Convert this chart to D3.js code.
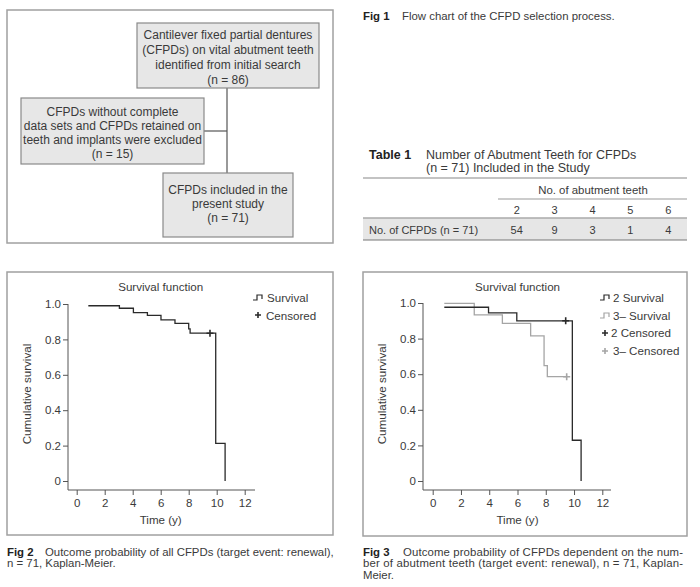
<!DOCTYPE html>
<html><head><meta charset="utf-8">
<script src="https://cdn.jsdelivr.net/npm/d3@7"></script>
<style>
body{margin:0;background:#fff}
svg{display:block}
text{font-family:"Liberation Sans",Arial,Helvetica,sans-serif;fill:#3a3a3a}
</style>
</head><body>
<svg id="c" width="700" height="587"></svg>
<script>
// ---------- DATA ----------
const flowTop = ["Cantilever fixed partial dentures","(CFPDs) on vital abutment teeth","identified from initial search","(n = 86)"];
const flowExcluded = ["CFPDs without complete","data sets and CFPDs retained on","teeth and implants were excluded","(n = 15)"];
const flowIncluded = ["CFPDs included in the","present study","(n = 71)"];

const abutmentTeeth = ["2","3","4","5","6"];
const cfpdCounts = [54, 9, 3, 1, 4];

const timeTicks = [0, 2, 4, 6, 8, 10, 12];
const survTicks = [0, 0.2, 0.4, 0.6, 0.8, 1.0];

// Fig 2: all CFPDs
const allTimes = [0.83, 3.05, 4.05, 5.05, 6.02, 7.02, 8.0, 8.1, 9.93, 10.6];
const allSurv  = [0.99, 0.976, 0.951, 0.936, 0.91, 0.89, 0.86, 0.835, 0.213, 0];
const allCensT = [9.52];
const allCensS = [0.835];

// Fig 3: 2 abutment teeth
const twoTimes = [0.82, 3.95, 5.95, 9.88, 10.5];
const twoSurv  = [0.976, 0.945, 0.9, 0.229, 0];
const twoCensT = [9.41];
const twoCensS = [0.9];
// Fig 3: 3+ abutment teeth
const threeTimes = [0.82, 2.94, 4.93, 6.93, 7.88, 8.11, 9.48];
const threeSurv  = [0.998, 0.933, 0.886, 0.815, 0.648, 0.586, 0.586];
const threeCensT = [9.48];
const threeCensS = [0.586];

// ---------- DRAW ----------
const svg = d3.select("#c");
svg.append("rect").attr("width",700).attr("height",587).attr("fill","#fff");

// ===== Fig 1 flowchart =====
const f1 = svg.append("g");
f1.append("rect").attr("x",7).attr("y",10).attr("width",326).attr("height",233)
  .attr("fill","none").attr("stroke","#a0a0a0").attr("stroke-width",1.5);
f1.append("line").attr("x1",227).attr("x2",227).attr("y1",88).attr("y2",173).attr("stroke","#555").attr("stroke-width",1.2);
f1.append("line").attr("x1",204).attr("x2",227).attr("y1",131).attr("y2",131).attr("stroke","#555").attr("stroke-width",1.2);
function flowBox(x,y,w,h,lines,cy0,dy){
  f1.append("rect").attr("x",x).attr("y",y).attr("width",w).attr("height",h)
    .attr("fill","#e7e7e7").attr("stroke","#8a8a8a").attr("stroke-width",1.2);
  f1.selectAll(null).data(lines).enter().append("text")
    .attr("x",x+w/2).attr("y",(d,i)=>cy0+i*dy+4)
    .attr("text-anchor","middle").attr("font-size",12).text(d=>d);
}
flowBox(137,23,182,65,flowTop,35,15);
flowBox(21,98,183,66,flowExcluded,112,14);
flowBox(163,173,130,64,flowIncluded,190,14);

// Fig 1 caption
const c1 = svg.append("text").attr("x",363).attr("y",20).attr("font-size",11.4);
c1.append("tspan").attr("font-weight","bold").attr("fill","#222").text("Fig 1");
c1.append("tspan").attr("x",402).text("Flow chart of the CFPD selection process.");

// ===== Table 1 =====
const t1 = svg.append("g");
const tt = t1.append("text").attr("x",369).attr("y",159).attr("font-size",12.5);
tt.append("tspan").attr("font-weight","bold").attr("fill","#222").text("Table 1");
tt.append("tspan").attr("x",426).text("Number of Abutment Teeth for CFPDs");
t1.append("text").attr("x",426).attr("y",172).attr("font-size",12.5).text("(n = 71) Included in the Study");
const colX = d3.scalePoint().domain(abutmentTeeth).range([516.7,668.3]);
t1.append("rect").attr("x",363).attr("y",218).attr("width",324).attr("height",22).attr("fill","#e6e6e6");
t1.append("line").attr("x1",363).attr("x2",687).attr("y1",178).attr("y2",178).attr("stroke","#888").attr("stroke-width",1.2);
t1.append("line").attr("x1",498).attr("x2",687).attr("y1",199).attr("y2",199).attr("stroke","#999").attr("stroke-width",1);
t1.append("line").attr("x1",363).attr("x2",687).attr("y1",218).attr("y2",218).attr("stroke","#aaa").attr("stroke-width",1.6);
t1.append("line").attr("x1",363).attr("x2",687).attr("y1",240).attr("y2",240).attr("stroke","#777").attr("stroke-width",1.2);
t1.append("text").attr("x",593).attr("y",194).attr("text-anchor","middle").attr("font-size",11.4).text("No. of abutment teeth");
t1.selectAll(null).data(abutmentTeeth).enter().append("text")
  .attr("x",d=>colX(d)).attr("y",214).attr("text-anchor","middle").attr("font-size",11).text(d=>d);
t1.append("text").attr("x",369).attr("y",234).attr("font-size",11).text("No. of CFPDs (n = 71)");
t1.selectAll(null).data(cfpdCounts).enter().append("text")
  .attr("x",(d,i)=>colX(abutmentTeeth[i])).attr("y",234).attr("text-anchor","middle").attr("font-size",11).text(d=>d);

// ===== KM panels =====
function plusPath(s){return `M${-s},0H${s}M0,${-s}V${s}`;}
function stepGlyph(g,x,y,color){
  g.append("path").attr("d",`M${x},${y+2}h4v-5h5v4`).attr("fill","none").attr("stroke",color).attr("stroke-width",1.2);
}
function panel(opts){
  const g = svg.append("g");
  g.append("rect").attr("x",opts.box[0]).attr("y",272).attr("width",opts.box[1]-opts.box[0]).attr("height",opts.box[2]-272)
    .attr("fill","none").attr("stroke","#a0a0a0").attr("stroke-width",1.5);
  const x = d3.scaleLinear().domain([0,12]).range([opts.x0,opts.x12]);
  const y = d3.scaleLinear().domain([0,1]).range([opts.y0,opts.y1]);
  const axY = 490;
  const gx = g.append("g").attr("transform",`translate(0,${axY})`)
    .call(d3.axisBottom(x).tickValues(timeTicks).tickSize(5).tickPadding(4).tickFormat(d3.format("d")));
  gx.select(".domain").remove();
  gx.append("line").attr("x1",opts.yAxisX).attr("x2",opts.xEnd).attr("stroke","#555");
  const gy = g.append("g").attr("transform",`translate(${opts.yAxisX},0)`)
    .call(d3.axisLeft(y).tickValues(survTicks).tickSize(5).tickPadding(2).tickFormat(d=>d===0?"0":d3.format(".1f")(d)));
  gy.select(".domain").remove();
  gy.append("line").attr("y1",y(1)).attr("y2",axY).attr("stroke","#555");
  [gx,gy].forEach(a=>{
    a.selectAll(".tick line").attr("stroke","#555");
    a.selectAll(".tick text").attr("font-size",11.5).attr("fill","#3a3a3a")
      .attr("font-family","Liberation Sans, Arial, sans-serif");
  });
  g.append("text").attr("x",(opts.x0+opts.x12)/2).attr("y",291).attr("text-anchor","middle").attr("font-size",11.6).text("Survival function");
  g.append("text").attr("x",(opts.x0+opts.x12)/2).attr("y",524).attr("text-anchor","middle").attr("font-size",11.6).text("Time (y)");
  g.append("text").attr("transform",`translate(${opts.ylabX},394) rotate(-90)`).attr("text-anchor","middle").attr("font-size",11.6).text("Cumulative survival");
  const line = d3.line().x(d=>x(d[0])).y(d=>y(d[1])).curve(d3.curveStepAfter);
  opts.series.forEach(s=>{
    g.append("path").datum(d3.zip(s.t,s.s)).attr("d",line)
      .attr("fill","none").attr("stroke",s.color).attr("stroke-width",1.3);
  });
  opts.series.forEach(s=>{
    g.selectAll(null).data(d3.zip(s.ct,s.cs)).enter().append("path")
      .attr("transform",d=>`translate(${x(d[0])},${y(d[1])})`)
      .attr("d",plusPath(3.5)).attr("stroke",s.color).attr("stroke-width",1.6).attr("fill","none");
  });
  return g;
}

const p2 = panel({box:[7,333,535], x0:76.7, x12:244.7, y0:481, y1:304, yAxisX:68, xEnd:255, ylabX:31,
  series:[{t:allTimes,s:allSurv,ct:allCensT,cs:allCensS,color:"#2a2a2a"}]});
stepGlyph(p2,253,298,"#2a2a2a");
p2.append("text").attr("x",267).attr("y",302).attr("font-size",11.6).text("Survival");
p2.append("path").attr("transform","translate(258,315)").attr("d",plusPath(3)).attr("stroke","#2a2a2a").attr("stroke-width",1.6);
p2.append("text").attr("x",266).attr("y",320).attr("font-size",11.6).text("Censored");

const p3 = panel({box:[363,687,536], x0:432.7, x12:602.3, y0:481, y1:303, yAxisX:423, xEnd:611, ylabX:386,
  series:[{t:threeTimes,s:threeSurv,ct:threeCensT,cs:threeCensS,color:"#a5a5a5"},
          {t:twoTimes,s:twoSurv,ct:twoCensT,cs:twoCensS,color:"#2a2a2a"}]});
stepGlyph(p3,600,298,"#2a2a2a");
p3.append("text").attr("x",613).attr("y",302).attr("font-size",11.6).text("2 Survival");
stepGlyph(p3,600,316,"#a5a5a5");
p3.append("text").attr("x",613).attr("y",320).attr("font-size",11.6).text("3– Survival");
p3.append("path").attr("transform","translate(605,333)").attr("d",plusPath(3)).attr("stroke","#2a2a2a").attr("stroke-width",1.6);
p3.append("text").attr("x",611).attr("y",337).attr("font-size",11.6).text("2 Censored");
p3.append("path").attr("transform","translate(605,351)").attr("d",plusPath(3)).attr("stroke","#a5a5a5").attr("stroke-width",1.6);
p3.append("text").attr("x",613).attr("y",355).attr("font-size",11.6).text("3– Censored");

// Captions
const c2 = svg.append("text").attr("x",7).attr("y",556).attr("font-size",11.4);
c2.append("tspan").attr("font-weight","bold").attr("fill","#222").text("Fig 2");
c2.append("tspan").attr("x",45).text("Outcome probability of all CFPDs (target event: renewal),");
svg.append("text").attr("x",7).attr("y",567).attr("font-size",11.4).text("n = 71, Kaplan-Meier.");

const c3 = svg.append("text").attr("x",363).attr("y",556).attr("font-size",11.4);
c3.append("tspan").attr("font-weight","bold").attr("fill","#222").text("Fig 3");
c3.append("tspan").attr("x",403).attr("textLength",280).attr("lengthAdjust","spacing").text("Outcome probability of CFPDs dependent on the num-");
svg.append("text").attr("x",363).attr("y",567).attr("font-size",11.4).attr("textLength",320).attr("lengthAdjust","spacing")
  .text("ber of abutment teeth (target event: renewal), n = 71, Kaplan-");
svg.append("text").attr("x",363).attr("y",579).attr("font-size",11.4).text("Meier.");
</script>
</body></html>
